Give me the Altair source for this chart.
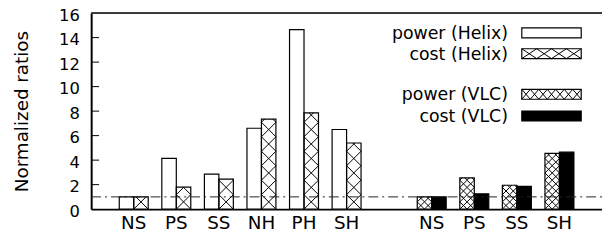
import altair as alt
import pandas as pd

# ---------------- data ----------------
helix_cats = ["NS", "PS", "SS", "NH", "PH", "SH"]
helix_power = [1.0, 4.15, 2.85, 6.6, 14.65, 6.5]
helix_cost = [1.0, 1.8, 2.45, 7.35, 7.85, 5.4]
vlc_cats = ["NS", "PS", "SS", "SH"]
vlc_power = [1.0, 2.55, 1.95, 4.55]
vlc_cost = [1.0, 1.25, 1.85, 4.65]
y_ticks = [0, 2, 4, 6, 8, 10, 12, 14, 16]
legend_labels = ["power (Helix)", "cost (Helix)", "power (VLC)", "cost (VLC)"]
ref_level = [1.0]

# ---------------- layout ----------------
W, H = 516, 198
X_DOM = [-1, 11]
Y_DOM = [0, 16]
BW = 0.34
PX_X = W / (X_DOM[1] - X_DOM[0])
PX_Y = H / (Y_DOM[1] - Y_DOM[0])
FONT = "DejaVu Sans"

helix_slots = list(range(len(helix_cats)))
vlc_slots = [len(helix_cats) + 1 + i for i in range(len(vlc_cats))]


def px2x(p):
    return X_DOM[0] + p / PX_X


def px2y(p):
    return Y_DOM[1] - p / PX_Y


bars = []
for s, p, c in zip(helix_slots, helix_power, helix_cost):
    bars.append(dict(x0=s - BW, x1=s, v=p, fill="white", hatch=0))
    bars.append(dict(x0=s, x1=s + BW, v=c, fill="white", hatch=1))
for s, p, c in zip(vlc_slots, vlc_power, vlc_cost):
    bars.append(dict(x0=s - BW, x1=s, v=p, fill="white", hatch=2))
    bars.append(dict(x0=s, x1=s + BW, v=c, fill="black", hatch=0))
bars_df = pd.DataFrame(bars)
bars_df["zero"] = 0.0


def hatch_segments(x0, x1, y_lo, y_hi, ncol, cell_h_px=None):
    segs = []
    cw = (x1 - x0) / ncol
    cw_px = cw * PX_X
    ch = (cell_h_px if cell_h_px else cw_px) / PX_Y
    ratio_x = cw / ch
    for c in range(ncol):
        cx0 = x0 + c * cw
        cx1 = cx0 + cw
        k = 0
        while True:
            y0 = y_lo + k * ch
            if y0 >= y_hi - 1e-9:
                break
            y1 = min(y0 + ch, y_hi)
            d = (y1 - y0) * ratio_x
            segs.append(dict(a=cx0, b=cx0 + d, c=y0, d=y1))
            segs.append(dict(a=cx1, b=cx1 - d, c=y0, d=y1))
            k += 1
    return segs


hatch_bars = []
for r in bars:
    if r["hatch"] == 1:
        hatch_bars += hatch_segments(r["x0"], r["x1"], 0.0, r["v"], 1)
    elif r["hatch"] == 2:
        hatch_bars += hatch_segments(r["x0"], r["x1"], 0.0, r["v"], 2)
hatch_bars_df = pd.DataFrame(hatch_bars)

# legend (placed in plot pixel space, converted to data units)
LX0, LX1 = 435, 495
rows_px = [(15, 25), (36, 46), (77, 87), (99, 109)]
leg_fill = ["white", "white", "white", "black"]
leg_cols = [0, 4, 7, 0]
leg_rects = []
hatch_leg = []
for (t, b), f, n in zip(rows_px, leg_fill, leg_cols):
    leg_rects.append(dict(x0=px2x(LX0), x1=px2x(LX1), v=px2y(t), zero=px2y(b), fill=f))
    if n:
        hatch_leg += hatch_segments(px2x(LX0), px2x(LX1), px2y(b), px2y(t), n, cell_h_px=(b - t))
leg_df = pd.DataFrame(leg_rects)
hatch_leg_df = pd.DataFrame(hatch_leg)

leg_text_df = pd.DataFrame(dict(
    label=legend_labels,
    x=[px2x(421)] * 4,
    y=[px2y((t + b) / 2 + 1) for t, b in rows_px],
))

labels_df = pd.DataFrame(dict(
    slot=helix_slots + vlc_slots,
    label=helix_cats + vlc_cats,
))

xs = alt.Scale(domain=X_DOM, nice=False, zero=False)
ys = alt.Scale(domain=Y_DOM, nice=False, zero=False)

x_axis = alt.Axis(labels=False, ticks=False, grid=False, title=None,
                  domainWidth=2, domainColor="black")
y_axis = alt.Axis(values=y_ticks, ticks=False, grid=False, domainWidth=2,
                  domainColor="black", labelFont=FONT, labelFontSize=16.5,
                  labelColor="black", labelPadding=12, labelOverlap=False,
                  labelOffset=2, labelBound=False, labelFlush=False,
                  title="Normalized ratios",
                  titleFont=FONT, titleFontSize=18.5, titleFontWeight="normal",
                  titleColor="black", titlePadding=27)


def X(f):
    return alt.X(f, scale=xs, axis=x_axis, title=None)


def Y(f):
    return alt.Y(f, scale=ys, axis=y_axis, title="Normalized ratios")


fills = alt.Chart(bars_df).mark_rect(strokeWidth=0).encode(
    x=X("x0:Q"), x2="x1:Q", y=Y("v:Q"), y2="zero:Q",
    fill=alt.Fill("fill:N", scale=None),
)


def hatch_layer(df):
    return alt.Chart(df).mark_rule(color="black", strokeWidth=1).encode(
        x=X("a:Q"), x2="b:Q", y=Y("c:Q"), y2="d:Q",
    )


def outline_layer(df):
    return alt.Chart(df).mark_rect(fill=None, stroke="black", strokeWidth=1.2).encode(
        x=X("x0:Q"), x2="x1:Q", y=Y("v:Q"), y2="zero:Q",
    )


leg_fills = alt.Chart(leg_df).mark_rect(strokeWidth=0).encode(
    x=X("x0:Q"), x2="x1:Q", y=Y("v:Q"), y2="zero:Q",
    fill=alt.Fill("fill:N", scale=None),
)

leg_text = alt.Chart(leg_text_df).mark_text(
    align="right", baseline="middle", font=FONT, fontSize=17.5, color="black"
).encode(x=X("x:Q"), y=Y("y:Q"), text="label:N")

ref_line = alt.Chart(pd.DataFrame(dict(r=ref_level))).mark_rule(
    color="#222222", strokeWidth=1, strokeDash=[10, 4, 2, 4]
).encode(y=Y("r:Q"), x=alt.value(0), x2=alt.value(W))

ticks_df = pd.DataFrame(dict(t=y_ticks[1:-1]))
ticks = alt.Chart(ticks_df).mark_rule(color="black", strokeWidth=1).encode(
    y=Y("t:Q"), x=alt.value(0), x2=alt.value(8)
)

top_line = alt.Chart(pd.DataFrame(dict(t=[Y_DOM[1]]))).mark_rule(
    color="black", strokeWidth=1.5
).encode(y=Y("t:Q"), x=alt.value(0), x2=alt.value(W))

x_labels = alt.Chart(labels_df).mark_text(
    align="center", baseline="alphabetic", font=FONT, fontSize=18.5, color="black"
).encode(x=X("slot:Q"), y=alt.value(H + 20), text="label:N")

chart = alt.layer(
    fills, hatch_layer(hatch_bars_df), outline_layer(bars_df), ref_line, ticks, top_line,
    leg_fills, hatch_layer(hatch_leg_df), outline_layer(leg_df), leg_text, x_labels,
).properties(
    width=W, height=H,
    padding={"left": 84, "top": 4, "right": 0, "bottom": 28},
    autosize=alt.AutoSizeParams(type="none"),
).configure_view(stroke=None).configure(background="white")

chart.save("out.html", embed_options={"renderer": "svg", "actions": False})
